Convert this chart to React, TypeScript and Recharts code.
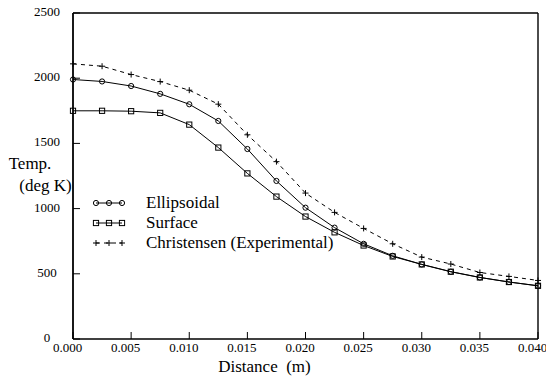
import React from 'react';
import { LineChart, Line, XAxis, YAxis, Legend } from 'recharts';

const distances = [0, 0.0025, 0.005, 0.0075, 0.01, 0.0125, 0.015, 0.0175, 0.02, 0.0225, 0.025, 0.0275, 0.03, 0.0325, 0.035, 0.0375, 0.04];
const ellipsoidal = [1990, 1975, 1940, 1880, 1800, 1672, 1457, 1212, 1007, 854, 730, 638, 572, 516, 472, 437, 408];
const surface = [1750, 1750, 1747, 1734, 1644, 1468, 1270, 1092, 939, 818, 717, 633, 572, 516, 472, 437, 408];
const christensen = [2110, 2092, 2028, 1974, 1908, 1801, 1566, 1360, 1119, 971, 848, 730, 628, 575, 510, 480, 449];

const xTicks = [0, 0.005, 0.01, 0.015, 0.02, 0.025, 0.03, 0.035, 0.04];
const xTickLabels = ['0.000', '0.005', '0.010', '0.015', '0.020', '0.025', '0.030', '0.035', '0.040'];
const yTicks = [0, 500, 1000, 1500, 2000, 2500];
const seriesKeys = ['ellipsoidal', 'surface', 'christensen'];
const seriesNames = ['Ellipsoidal', 'Surface', 'Christensen (Experimental)'];
const xAxisTitle = 'Distance  (m)';
const yAxisTitle = ['Temp.', '(deg K)'];

const data = distances.map((d, i) => ({
  d,
  ellipsoidal: ellipsoidal[i],
  surface: surface[i],
  christensen: christensen[i],
}));

const FONT = '"Liberation Serif", "Times New Roman", serif';

const XTick = (props: any) => {
  const { x, y, payload } = props;
  const idx = xTicks.indexOf(payload.value);
  const label = idx >= 0 ? xTickLabels[idx] : String(payload.value);
  return (
    <text x={x - 5.5} y={y} dy="0.34em" textAnchor="middle" fontSize={13} fontFamily={FONT} fill="#000">
      {label}
    </text>
  );
};

const YTick = (props: any) => {
  const { x, y, payload } = props;
  return (
    <text x={x - 13} y={y - 1.5} dy="0.34em" textAnchor="middle" fontSize={13} fontFamily={FONT} fill="#000">
      {payload.value}
    </text>
  );
};

const circleMark = (cx: number, cy: number, key?: any) => (
  <circle key={key} cx={cx} cy={cy} r={2.6} fill="none" stroke="#000" strokeWidth={1} />
);
const squareMark = (cx: number, cy: number, key?: any) => (
  <rect key={key} x={cx - 2.6} y={cy - 2.6} width={5.2} height={5.2} fill="none" stroke="#000" strokeWidth={1} />
);
const plusMark = (cx: number, cy: number, key?: any) => (
  <path key={key} d={`M${cx - 3},${cy}H${cx + 3}M${cx},${cy - 3}V${cy + 3}`} stroke="#000" strokeWidth={1} fill="none" />
);

const markers: Record<string, (cx: number, cy: number, key?: any) => React.ReactNode> = {
  ellipsoidal: circleMark,
  surface: squareMark,
  christensen: plusMark,
};

const makeDot = (kind: string) => (p: any) => {
  const { cx, cy, index } = p;
  if (cx == null || cy == null) return <g key={index} />;
  return markers[kind](cx, cy, `${kind}-${index}`);
};

const LegendContent = (props: any) => {
  const { payload = [] } = props;
  const sorted = [...payload].sort(
    (a: any, b: any) => seriesKeys.indexOf(a.dataKey) - seriesKeys.indexOf(b.dataKey)
  );
  return (
    <div style={{ fontFamily: FONT, fontSize: 17, color: '#000' }}>
      {sorted.map((entry: any, i: number) => {
        const key = entry.dataKey as string;
        const dashed = key === 'christensen';
        return (
          <div key={i} style={{ display: 'flex', alignItems: 'center', height: 20, lineHeight: '20px' }}>
            <svg width={56} height={20} style={{ display: 'block' }}>
              <line x1={6} y1={10} x2={32} y2={10} stroke="#000" strokeWidth={1} strokeDasharray={dashed ? '4 4' : undefined} />
              {markers[key](6, 10)}
              {markers[key](19, 10)}
              {markers[key](32, 10)}
            </svg>
            <span style={{ whiteSpace: 'nowrap' }}>{entry.value}</span>
          </div>
        );
      })}
    </div>
  );
};

const XTitle = (props: any) => {
  const { viewBox } = props;
  const cx = viewBox.x + viewBox.width / 2 - 41;
  return (
    <text x={cx} y={371.5} textAnchor="middle" fontSize={17} fontFamily={FONT} fill="#000" style={{ whiteSpace: 'pre' }}>
      {xAxisTitle}
    </text>
  );
};

const YTitle = () => (
  <g>
    <text x={30} y={169} textAnchor="middle" fontSize={17} fontFamily={FONT} fill="#000">{yAxisTitle[0]}</text>
    <text x={45.5} y={190.5} textAnchor="middle" fontSize={17} fontFamily={FONT} fill="#000">{yAxisTitle[1]}</text>
  </g>
);

export default function App() {
  return (
    <div style={{ position: 'absolute', left: 0, top: 0, width: 546, height: 376, background: '#fff' }}>
      <LineChart width={546} height={376} data={data} margin={{ top: 0, right: 0, bottom: 0, left: 0 }} style={{ fontFamily: FONT }}>
        <XAxis
          dataKey="d"
          type="number"
          domain={[0, 0.04]}
          ticks={xTicks}
          height={37}
          tickSize={-7}
          tickMargin={16}
          tick={<XTick />}
          axisLine={{ stroke: '#000', strokeWidth: 1.6 }}
          tickLine={{ stroke: '#000', strokeWidth: 1 }}
          interval={0}
          label={<XTitle />}
        />
        <XAxis
          xAxisId="top"
          orientation="top"
          dataKey="d"
          type="number"
          domain={[0, 0.04]}
          ticks={xTicks}
          height={13}
          tickSize={-7}
          tick={false}
          axisLine={{ stroke: '#000', strokeWidth: 1.4 }}
          tickLine={{ stroke: '#000', strokeWidth: 1 }}
          interval={0}
        />
        <YAxis
          type="number"
          domain={[0, 2500]}
          ticks={yTicks}
          width={73}
          tickSize={-7}
          tickMargin={20}
          tick={<YTick />}
          axisLine={{ stroke: '#000', strokeWidth: 1.8 }}
          tickLine={{ stroke: '#000', strokeWidth: 1 }}
          interval={0}
          label={<YTitle />}
        />
        <YAxis
          yAxisId="right"
          orientation="right"
          type="number"
          domain={[0, 2500]}
          ticks={yTicks}
          width={8}
          tickSize={-7}
          tick={false}
          axisLine={{ stroke: '#000', strokeWidth: 1.4 }}
          tickLine={{ stroke: '#000', strokeWidth: 1 }}
          interval={0}
        />
        <Legend
          layout="vertical"
          align="center"
          verticalAlign="middle"
          content={<LegendContent />}
          wrapperStyle={{ position: 'absolute', left: 90, top: 193, width: 'auto', height: 'auto' }}
        />
        <Line
          type="linear"
          dataKey="ellipsoidal"
          name={seriesNames[0]}
          stroke="#000"
          strokeWidth={1}
          dot={makeDot('ellipsoidal')}
          activeDot={false}
          isAnimationActive={false}
        />
        <Line
          type="linear"
          dataKey="surface"
          name={seriesNames[1]}
          stroke="#000"
          strokeWidth={1}
          dot={makeDot('surface')}
          activeDot={false}
          isAnimationActive={false}
        />
        <Line
          type="linear"
          dataKey="christensen"
          name={seriesNames[2]}
          stroke="#000"
          strokeWidth={1}
          strokeDasharray="4 4"
          dot={makeDot('christensen')}
          activeDot={false}
          isAnimationActive={false}
        />
      </LineChart>
    </div>
  );
}
